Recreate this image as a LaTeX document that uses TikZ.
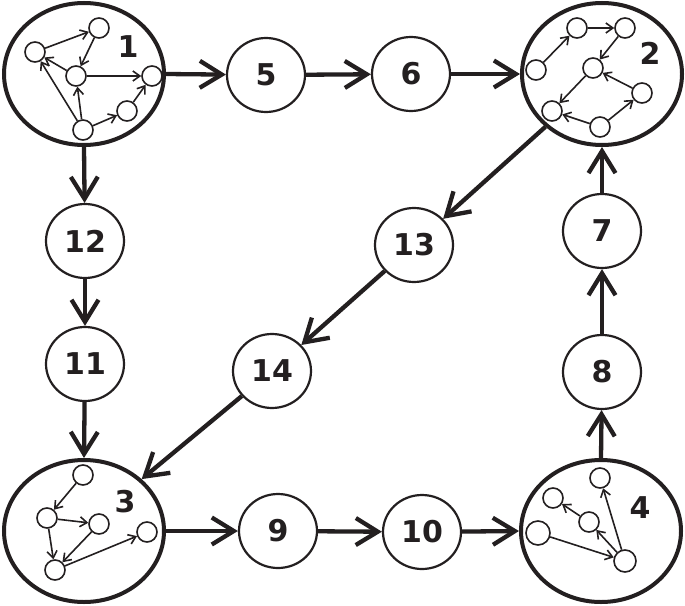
\documentclass[tikz,border=0pt]{standalone}
\usepackage{fontspec}
\setmainfont{DejaVu Sans}
\usetikzlibrary{arrows.meta,shapes.geometric}
\definecolor{ink}{RGB}{35,31,32}
\begin{document}
\begin{tikzpicture}[x=1pt,y=-1pt,color=ink,
  big/.style={ellipse,draw,line width=4pt,inner sep=0pt,minimum width=160pt,minimum height=142pt},
  mid/.style={ellipse,draw,line width=2.2pt,inner sep=0pt,minimum width=78pt,minimum height=74pt,font=\fontsize{30}{32}\selectfont\bfseries},
  sm/.style={circle,draw,line width=1.6pt,inner sep=0pt,minimum size=20pt},
  smb/.style={sm,minimum size=24pt},
  lab/.style={font=\fontsize{30}{32}\selectfont\bfseries,inner sep=0pt},
  main/.style={line width=4.3pt,-{Straight Barb[length=22pt,width=27pt]}},
  thin/.style={line width=1.6pt,-{Straight Barb[length=7pt,width=10pt]}}]
\useasboundingbox[fill=white] (0,0) rectangle (685,605);

% big ellipses
\node[big] (e1) at (84,74) {};
\node[big] (e2) at (602,74) {};
\node[big] (e3) at (84,531) {};
\node[big] (e4) at (601,531) {};
\node[lab] (l1) at (128,47) {1};
\node[lab] (l2) at (650,53) {2};
\node[lab] (l3) at (125,502) {3};
\node[lab] (l4) at (640,508) {4};

% cluster 1
\node[sm] (1a) at (35,52) {};
\node[sm] (1b) at (99,28) {};
\node[sm] (1c) at (76,76) {};
\node[sm] (1d) at (152,76) {};
\node[sm] (1e) at (127,111) {};
\node[sm] (1f) at (83,130) {};
\draw[thin] (1a) -- (1b);
\draw[thin] (1b) -- (1c);
\draw[thin] (1c) -- (1a);
\draw[thin] (1c) -- (1d);
\draw[thin] (1f) -- (1c);
\draw[thin] (1f) -- (1a);
\draw[thin] (1f) -- (1e);
\draw[thin] (1e) -- (1d);

% cluster 2
\node[sm] (2a) at (536,70) {};
\node[sm] (2b) at (577,28) {};
\node[sm] (2c) at (625,28) {};
\node[sm] (2d) at (593,68) {};
\node[sm] (2e) at (642,93) {};
\node[sm] (2f) at (552,111) {};
\node[sm] (2g) at (600,127) {};
\draw[thin] (2a) -- (2b);
\draw[thin] (2b) -- (2c);
\draw[thin] (2c) -- (2d);
\draw[thin] (2d) -- (2f);
\draw[thin] (2e) -- (2d);
\draw[thin] (2g) -- (2e);
\draw[thin] (2g) -- (2f);

% cluster 3
\node[sm] (3a) at (83,475) {};
\node[sm] (3b) at (47,518) {};
\node[sm] (3c) at (99,524) {};
\node[sm] (3d) at (55,570) {};
\node[sm] (3e) at (147,532) {};
\draw[thin] (3a) -- (3b);
\draw[thin] (3b) -- (3c);
\draw[thin] (3b) -- (3d);
\draw[thin] (3c) -- (3d);
\draw[thin] (3d) -- (3e);

% cluster 4
\node[sm] (4a) at (600,478) {};
\node[sm] (4b) at (553,498) {};
\node[sm] (4c) at (589,522) {};
\node[smb] (4d) at (538,533) {};
\node[sm,minimum size=22pt] (4e) at (625,561) {};
\draw[thin] (4d) -- (4e);
\draw[thin] (4e) -- (4c);
\draw[thin] (4e) -- (4a);
\draw[thin] (4c) -- (4b);

% middle nodes
\node[mid] (n5) at (266,75) {5};
\node[mid] (n6) at (411,74) {6};
\node[mid] (n12) at (85,241) {12};
\node[mid] (n11) at (85,364) {11};
\node[mid] (n13) at (414,245) {13};
\node[mid] (n14) at (272,371) {14};
\node[mid] (n9) at (278,531) {9};
\node[mid] (n10) at (422,532) {10};
\node[mid] (n7) at (602,231) {7};
\node[mid] (n8) at (602,372) {8};

% main connectors
\draw[main] (e1.east) -- (n5);
\draw[main] (n5) -- (n6);
\draw[main] (n6) -- (e2.west);
\draw[main] (e1.south) -- (n12);
\draw[main] (n12) -- (n11);
\draw[main] (n11) -- (e3.north);
\draw[main] (e2.223) -- (n13);
\draw[main] (n13) -- (n14);
\draw[main] (n14) -- (e3.42);
\draw[main] (e3.east) -- (n9);
\draw[main] (n9) -- (n10);
\draw[main] (n10) -- (e4.west);
\draw[main] (e4.north) -- (n8);
\draw[main] (n8) -- (n7);
\draw[main] (n7) -- (e2.south);
\end{tikzpicture}
\end{document}
